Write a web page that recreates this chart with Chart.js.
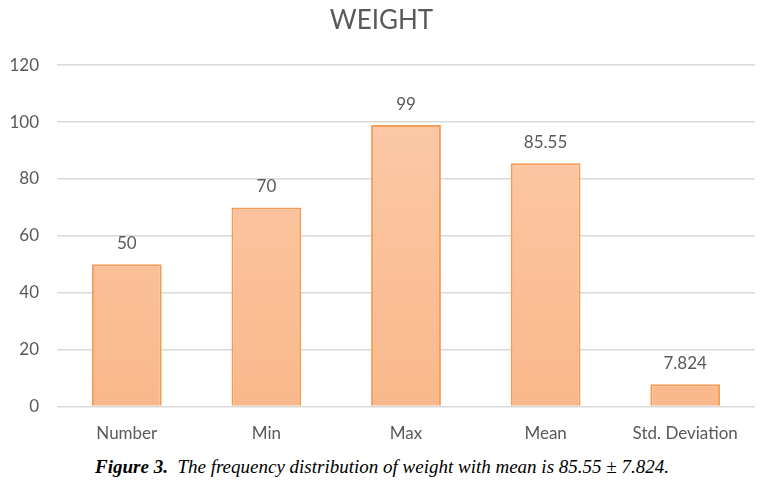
<!DOCTYPE html>
<html>
<head>
<meta charset="utf-8">
<script src="https://cdn.jsdelivr.net/npm/chart.js@4/dist/chart.umd.min.js"></script>
<style>
  body { margin: 0; background: #fff; }
  #wrap { position: relative; width: 764px; height: 453px; }
  #caption {
    width: 764px; text-align: center; margin-top: 3px;
    font-family: "Liberation Serif", serif; font-style: italic; font-size: 19px; color: #000;
  }
</style>
</head>
<body>
<div id="wrap"><canvas id="weightChart"></canvas></div>
<div id="caption"><b>Figure 3.</b>&nbsp; The frequency distribution of weight with mean is 85.55 ± 7.824.</div>
<script>
// Chart data
var categories = ["Number", "Min", "Max", "Mean", "Std. Deviation"];
var weightValues = [50, 70, 99, 85.55, 7.824];
var valueLabels = ["50", "70", "99", "85.55", "7.824"];
var yTicks = [0, 20, 40, 60, 80, 100, 120];

// Light orange gradient like the Office bar fill
function barFill(context) {
    var area = context.chart.chartArea;
    if (!area) return '#fbc29b';
    var g = context.chart.ctx.createLinearGradient(0, area.top, 0, area.bottom);
    g.addColorStop(0, '#fccbab');
    g.addColorStop(1, '#f9b88b');
    return g;
}

// Writes the value above every bar
var valueLabelPlugin = {
    id: 'valueLabels',
    afterDatasetsDraw: function(chart) {
        var ctx = chart.ctx;
        var meta = chart.getDatasetMeta(0);
        ctx.save();
        ctx.font = '17px Lato, "Open Sans", sans-serif';
        ctx.fillStyle = '#595959';
        ctx.textAlign = 'center';
        ctx.textBaseline = 'bottom';
        meta.data.forEach(function(bar, i) {
            ctx.fillText(valueLabels[i], bar.x, bar.y - 12);
        });
        ctx.restore();
    }
};

var ctx = document.getElementById('weightChart').getContext('2d');
var myChart = new Chart(ctx, {
    type: 'bar',
    data: {
        labels: categories,
        datasets: [{
            label: 'Weight',
            data: weightValues,
            backgroundColor: barFill,
            borderColor: '#f39c55',
            borderWidth: 2,
            borderSkipped: 'bottom',
            categoryPercentage: 1,
            barPercentage: 0.5
        }]
    },
    options: {
        responsive: true,
        maintainAspectRatio: false,
        animation: false,
        layout: { padding: { left: 8, right: 9, top: 0, bottom: 0 } },
        plugins: {
            legend: { display: false },
            tooltip: { enabled: false },
            title: {
                display: true,
                text: 'WEIGHT',
                color: '#595959',
                font: { family: 'Lato, "Open Sans", sans-serif', size: 26, weight: 'normal' },
                padding: { top: 5, bottom: 29 }
            }
        },
        scales: {
            x: {
                grid: { display: false },
                border: { display: false },
                ticks: {
                    color: '#595959',
                    font: { family: 'Lato, "Open Sans", sans-serif', size: 17 },
                    padding: 9
                }
            },
            y: {
                min: 0,
                max: 120,
                afterBuildTicks: function(axis) {
                    axis.ticks = yTicks.map(function(v) { return { value: v }; });
                },
                afterFit: function(axis) {
                    axis.width = 49;
                },
                grid: { color: '#d9d9d9', lineWidth: 1.5, drawTicks: false },
                border: { display: false },
                ticks: {
                    color: '#595959',
                    font: { family: 'Lato, "Open Sans", sans-serif', size: 17 },
                    padding: 18
                }
            }
        }
    },
    plugins: [valueLabelPlugin]
});
</script>
</body>
</html>
